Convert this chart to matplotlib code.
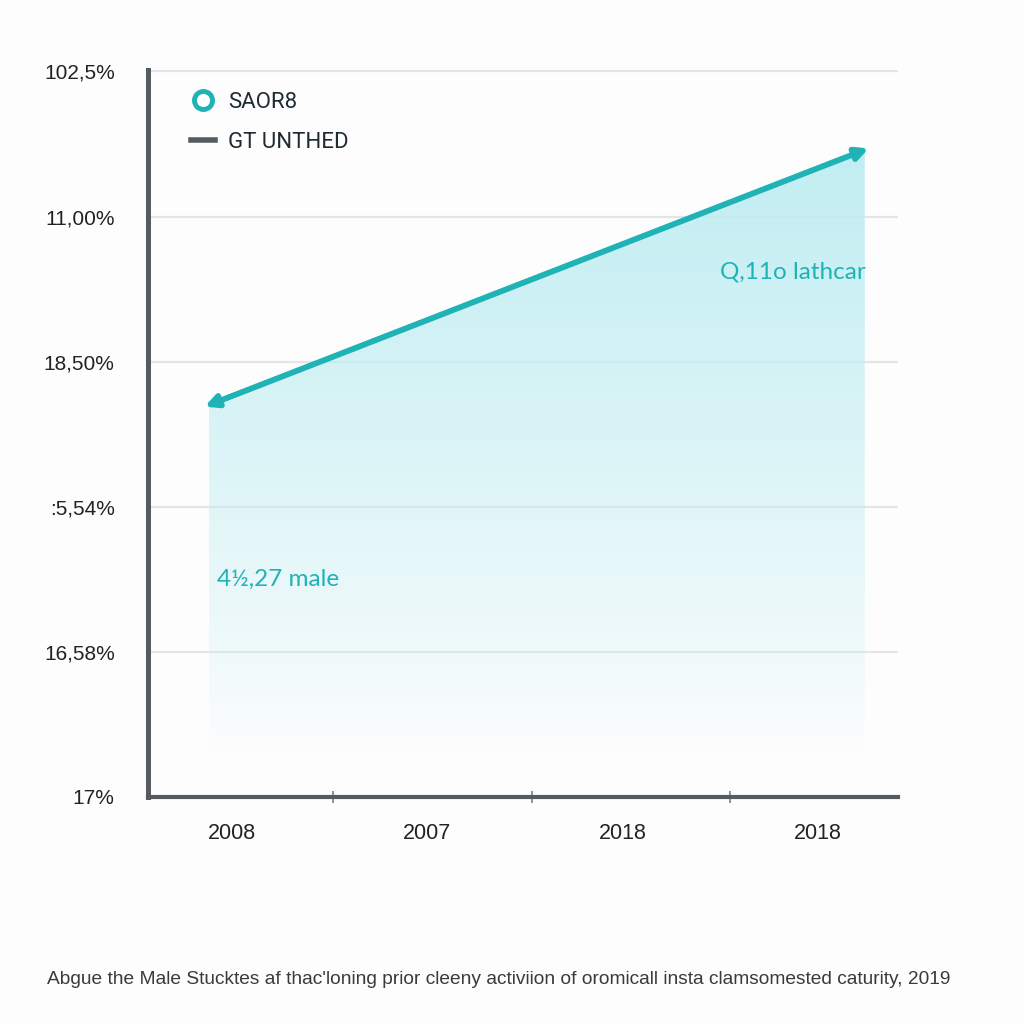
import numpy as np
import matplotlib
matplotlib.use('Agg')
import matplotlib.pyplot as plt
from matplotlib.lines import Line2D

# ---- data ----
categories = ['2008', '2007', '2018', '2018']
y_tick_labels = ['17%', '16,58%', ':5,54%', '18,50%', '11,00%', '102,5%']
series_x = [-0.12, 3.24]
series_y = [2.70, 4.46]
legend_labels = ['SAOR8', 'GT UNTHED']
annotation_texts = ['Q,11o lathcar', '4½,27 male']
caption = ("Abgue the Male Stucktes af thac'loning prior cleeny activiion of "
           "oromicall insta clamsomested caturity, 2019")

teal = '#1fb3b6'
dark = '#545c60'
grid_c = '#e4e6e6'

fig = plt.figure(figsize=(10.24, 10.24), dpi=100, facecolor='#fdfdfd')
ax = fig.add_axes([148 / 1024, 1 - 797 / 1024, 750 / 1024, 727 / 1024])
ax.set_facecolor('#fdfdfd')
ax.set_xlim(-0.43, 3.41)
ax.set_ylim(0, 5.01)

# spines
for s in ['top', 'right']:
    ax.spines[s].set_visible(False)
ax.spines['left'].set_color(dark)
ax.spines['left'].set_linewidth(3.6)
ax.spines['bottom'].set_color(dark)
ax.spines['bottom'].set_linewidth(3.0)

# y ticks / grid
ax.set_yticks(range(len(y_tick_labels)))
ax.set_yticklabels(y_tick_labels, fontsize=15, color='#222222',
                   family='Liberation Sans')
ax.tick_params(axis='y', length=0, pad=24)
ax.grid(axis='y', color=grid_c, lw=1.6, zorder=0)
ax.set_axisbelow(True)

# x ticks
ax.set_xticks(range(len(categories)))
ax.set_xticklabels(categories, fontsize=15.5, color='#222222',
                   family='Liberation Sans')
ax.tick_params(axis='x', which='major', length=0, pad=19)
ax.set_xticks([0.517, 1.536, 2.55], minor=True)
ax.tick_params(axis='x', which='minor', length=9, width=1.2,
               direction='inout', color='#7a8285')

# gradient fill under the line
fill_bottom = 0.3
poly = ax.fill_between(series_x, series_y, fill_bottom, color='none', lw=0)
n = 256
alpha = np.linspace(0, 1, n) ** 0.85
rgba = np.zeros((n, 1, 4))
rgba[..., 0] = 0.75
rgba[..., 1] = 0.93
rgba[..., 2] = 0.95
rgba[:, 0, 3] = alpha * 0.97
img = ax.imshow(rgba, extent=[min(series_x), max(series_x), fill_bottom, max(series_y)],
                origin='lower', aspect='auto', zorder=1, interpolation='bilinear')
img.set_clip_path(poly.get_paths()[0], transform=ax.transData)
ax.set_xlim(-0.43, 3.41)
ax.set_ylim(0, 5.01)

# double-headed line
ax.annotate('', xy=(series_x[1] + 0.02, series_y[1] + 0.01),
            xytext=(series_x[0] - 0.02, series_y[0] - 0.01),
            arrowprops=dict(arrowstyle='<|-|>', color=teal, lw=4.2,
                            mutation_scale=18, shrinkA=0, shrinkB=0),
            zorder=3)

# annotations
ax.text(3.246, 3.62, annotation_texts[0], ha='right', va='center',
        fontsize=17.5, color=teal, family='Lato', zorder=4)
ax.text(-0.077, 1.50, annotation_texts[1], ha='left', va='center',
        fontsize=17.5, color=teal, family='Lato', zorder=4)

# legend
handles = [Line2D([], [], marker='o', ls='none', ms=13, mfc='white',
                  mec=teal, mew=3.5),
           Line2D([], [], color=dark, lw=4)]
leg = ax.legend(handles, legend_labels, loc='upper left',
                bbox_to_anchor=(191 / 1024, 1 - 92 / 1024),
                bbox_transform=fig.transFigure, frameon=False,
                handlelength=1.1, handletextpad=0.55,
                labelspacing=0.85, borderpad=0, borderaxespad=0,
                prop={'family': 'Roboto', 'size': 16})
for t in leg.get_texts():
    t.set_color('#1e2b31')

# caption
fig.text(47 / 1024, 1 - 980 / 1024, caption, ha='left', va='center',
         fontsize=13.8, color='#3a3a3a', family='Liberation Sans')

fig.savefig('out.png', dpi=100, facecolor=fig.get_facecolor())
